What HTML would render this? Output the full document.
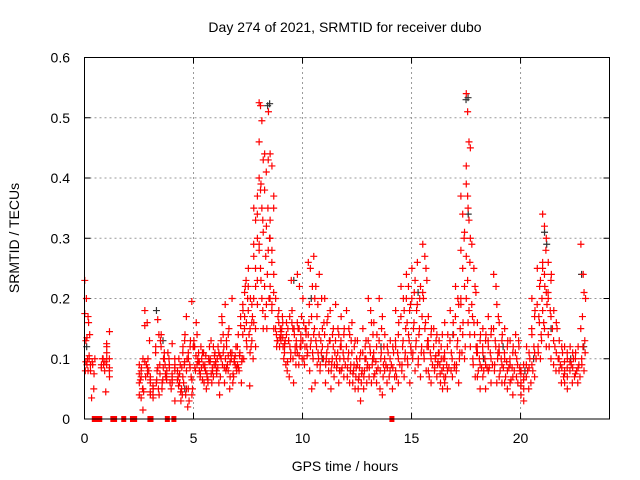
<!DOCTYPE html>
<html><head><meta charset="utf-8"><style>
body{margin:0;background:#fff}
svg{display:block;font-family:"Liberation Sans",sans-serif}
</style></head><body>
<svg id="chart" width="640" height="480">
<text x="345" y="32" text-anchor="middle" font-size="14">Day 274 of 2021, SRMTID for receiver dubo</text>
<text transform="translate(19,238) rotate(-90)" text-anchor="middle" font-size="14">SRMTID / TECUs</text>
<text x="345" y="471" text-anchor="middle" font-size="14">GPS time / hours</text>
<g id="grid"></g>
<g id="ticks"></g>
<g id="black"></g>
<g id="red"></g>
<rect x="84.5" y="57.5" width="525" height="361.5" fill="none" stroke="#000"/>
</svg>
<script>
const xTicks=[0,5,10,15,20];
const yTicks=[0,0.1,0.2,0.3,0.4,0.5,0.6];
const yTickLabels=["0","0.1","0.2","0.3","0.4","0.5","0.6"];
const binStart=[0,0.25,0.75,1.0,2.5,2.75,3.0,3.25,3.5,3.75,4.0,4.25,4.5,4.75,5.0,5.25,5.5,5.75,6.0,6.25,6.5,6.75,7.0,7.25,7.5,7.75,8.0,8.25,8.5,8.75,9.0,9.25,9.5,9.75,10,10.25,10.5,10.75,11,11.25,11.5,11.75,12,12.25,12.5,12.75,13,13.25,13.5,13.75,14,14.25,14.5,14.75,15,15.25,15.5,15.75,16,16.25,16.5,16.75,17,17.25,17.5,17.75,18,18.25,18.5,18.75,19,19.25,19.5,19.75,20,20.25,20.5,20.75,21,21.25,21.5,21.75,22,22.25,22.5,22.75];
const redValues=[
[0.23,0.2,0.17,0.14,0.13,0.1,0.1,0.08,0.09,0.16],[0.08,0.05,0.035,0.1,0.09],[0.09,0.08,0.1,0.045,0.09],[0.12,0.145,0.1,0.07,0.11,0.085],
[0.09,0.08,0.05,0.04,0.07,0.1,0.06,0.035,0.015],[0.18,0.16,0.13,0.09,0.08,0.07,0.1],[0.04,0.05,0.06,0.035,0.07,0.05],[0.12,0.165,0.09,0.06,0.05,0.13,0.08,0.04],
[0.14,0.1,0.07,0.065,0.09,0.05,0.11],[0.08,0.06,0.11,0.05,0.1],[0.125,0.09,0.07,0.03,0.06,0.08],[0.08,0.06,0.05,0.07,0.09,0.04,0.1,0.03],
[0.12,0.14,0.1,0.06,0.04,0.02,0.09,0.17],[0.1,0.13,0.05,0.03,0.07,0.12,0.09,0.195],[0.13,0.16,0.11,0.08,0.1,0.12,0.09],[0.08,0.1,0.06,0.12,0.09,0.07,0.11],
[0.09,0.07,0.12,0.05,0.1,0.08,0.06],[0.1,0.08,0.11,0.06,0.09,0.13,0.07],[0.09,0.12,0.07,0.1,0.04,0.08,0.11],[0.1,0.14,0.19,0.17,0.12,0.08,0.09,0.06],
[0.12,0.15,0.1,0.08,0.11,0.09,0.05],[0.2,0.1,0.08,0.07,0.12,0.06,0.09],[0.09,0.11,0.1,0.08,0.06,0.14,0.17],[0.18,0.22,0.2,0.15,0.12,0.1,0.23],
[0.25,0.2,0.17,0.14,0.12,0.1,0.055,0.16],[0.35,0.33,0.3,0.27,0.22,0.19,0.16,0.12,0.37],[0.525,0.52,0.495,0.43,0.4,0.38,0.35,0.31,0.28,0.25,0.2,0.15],[0.44,0.41,0.35,0.3,0.27,0.24,0.2,0.17,0.15,0.51],
[0.44,0.42,0.37,0.33,0.28,0.24,0.22,0.19,0.15],[0.2,0.17,0.15,0.13,0.12,0.14,0.16],[0.14,0.12,0.13,0.15,0.1,0.09,0.17,0.11],[0.16,0.13,0.1,0.08,0.07,0.23,0.15,0.12],
[0.18,0.14,0.12,0.06,0.09,0.15,0.11],[0.24,0.22,0.17,0.15,0.12,0.1,0.09,0.14],[0.2,0.15,0.11,0.09,0.12,0.16,0.14],[0.26,0.25,0.22,0.16,0.13,0.1,0.08,0.05],
[0.27,0.22,0.19,0.15,0.12,0.1,0.06,0.09],[0.24,0.2,0.16,0.13,0.1,0.08,0.12],[0.2,0.16,0.13,0.1,0.08,0.06,0.12],[0.18,0.14,0.11,0.09,0.07,0.05,0.12],
[0.19,0.15,0.12,0.09,0.08,0.1,0.06],[0.17,0.14,0.12,0.1,0.08,0.07],[0.18,0.15,0.13,0.1,0.08,0.07,0.06],[0.16,0.12,0.1,0.08,0.07,0.06,0.05],
[0.13,0.1,0.08,0.07,0.06,0.05,0.03],[0.15,0.12,0.09,0.08,0.06,0.05,0.1],[0.2,0.18,0.14,0.12,0.09,0.07,0.06],[0.16,0.12,0.1,0.08,0.07,0.06],
[0.2,0.15,0.12,0.1,0.07,0.05,0.04],[0.14,0.11,0.09,0.07,0.06],[0.13,0.11,0.09,0.07,0.05],[0.18,0.14,0.12,0.1,0.08,0.06],
[0.22,0.2,0.15,0.12,0.1,0.08,0.07],[0.24,0.22,0.19,0.16,0.13,0.11,0.09,0.06],[0.25,0.21,0.18,0.15,0.12,0.1,0.08],[0.26,0.2,0.17,0.14,0.11,0.09,0.07],
[0.29,0.27,0.23,0.2,0.16,0.13,0.1,0.08],[0.17,0.14,0.12,0.1,0.08,0.06],[0.15,0.13,0.11,0.1,0.09,0.08,0.07],[0.13,0.12,0.1,0.09,0.08,0.07,0.06,0.05],
[0.16,0.12,0.1,0.08,0.06,0.05],[0.18,0.14,0.11,0.09,0.07],[0.22,0.2,0.15,0.12,0.1,0.08,0.06],[0.37,0.34,0.31,0.28,0.25,0.22,0.19,0.14,0.1],
[0.54,0.51,0.46,0.45,0.39,0.37,0.33,0.3,0.27,0.23,0.18,0.12],[0.29,0.25,0.21,0.17,0.14,0.11,0.09,0.07],[0.16,0.13,0.11,0.09,0.07,0.05],[0.15,0.13,0.11,0.09,0.07,0.05],
[0.17,0.14,0.12,0.1,0.08,0.06],[0.24,0.22,0.17,0.13,0.1,0.08,0.06],[0.16,0.13,0.11,0.09,0.07,0.06],[0.15,0.12,0.1,0.08,0.06,0.05],
[0.13,0.11,0.09,0.07,0.06,0.04],[0.14,0.12,0.1,0.08,0.06],[0.08,0.07,0.06,0.05,0.04,0.03],[0.12,0.1,0.08,0.06,0.05],
[0.2,0.17,0.14,0.11,0.09,0.07],[0.25,0.22,0.2,0.17,0.14,0.12,0.1],[0.34,0.32,0.3,0.26,0.24,0.21,0.18,0.15,0.12],[0.26,0.23,0.2,0.17,0.14,0.1],
[0.18,0.15,0.12,0.1,0.08],[0.13,0.11,0.09,0.07,0.06],[0.12,0.1,0.08,0.07,0.06,0.05],[0.12,0.1,0.09,0.07,0.06],
[0.11,0.09,0.08,0.07,0.06],[0.29,0.24,0.2,0.17,0.13,0.1,0.08]];
const redExtra=[
[0.175,0.135,0.105,0.095,0.08],[0.09,0.075,0.095],[0.085,0.095,0.1],[0.09,0.1,0.125,0.08],
[0.075,0.085,0.045,0.065,0.05],[0.095,0.085,0.155,0.075],[0.045,0.055,0.065,0.04],[0.11,0.085,0.075,0.065,0.14],
[0.12,0.085,0.075,0.06,0.1],[0.07,0.09,0.065,0.085],[0.075,0.085,0.065,0.1],[0.065,0.075,0.085,0.055,0.045],
[0.11,0.095,0.08,0.07,0.13,0.05],[0.11,0.085,0.065,0.05,0.12,0.04],[0.12,0.105,0.095,0.085,0.14],[0.095,0.085,0.11,0.075,0.065],
[0.085,0.075,0.095,0.105,0.065],[0.095,0.085,0.105,0.075,0.12],[0.095,0.085,0.105,0.075,0.06],[0.13,0.11,0.1,0.16,0.085],
[0.13,0.105,0.095,0.085,0.14,0.07],[0.11,0.095,0.085,0.075,0.105],[0.12,0.105,0.095,0.085,0.155],[0.19,0.17,0.16,0.14,0.21,0.13],
[0.18,0.15,0.13,0.22,0.11,0.19],[0.29,0.25,0.23,0.2,0.15,0.34],[0.46,0.39,0.33,0.29,0.23,0.18],[0.38,0.32,0.28,0.22,0.19,0.43],
[0.3,0.26,0.21,0.2,0.18,0.35],[0.15,0.13,0.135,0.12,0.18],[0.13,0.135,0.125,0.145,0.16,0.12],[0.14,0.13,0.11,0.095,0.17],
[0.16,0.15,0.13,0.1,0.12],[0.16,0.15,0.13,0.11,0.105,0.12],[0.13,0.12,0.105,0.1,0.15],[0.14,0.12,0.11,0.19,0.17],
[0.14,0.13,0.11,0.2,0.17],[0.14,0.11,0.1,0.09,0.15],[0.14,0.11,0.095,0.09,0.17],[0.13,0.1,0.09,0.08,0.15],
[0.13,0.11,0.1,0.085,0.14],[0.13,0.11,0.09,0.085,0.15],[0.12,0.11,0.09,0.085,0.14],[0.11,0.09,0.085,0.075,0.13],
[0.09,0.085,0.075,0.065,0.11],[0.11,0.1,0.085,0.07,0.13],[0.13,0.11,0.1,0.085,0.16],[0.11,0.095,0.085,0.075,0.14],
[0.13,0.11,0.09,0.08,0.17],[0.1,0.085,0.08,0.12],[0.1,0.085,0.08,0.12],[0.13,0.11,0.09,0.07,0.16],
[0.17,0.13,0.11,0.09,0.18],[0.2,0.14,0.12,0.1,0.18],[0.2,0.16,0.13,0.11,0.23],[0.19,0.15,0.12,0.1,0.22],
[0.21,0.15,0.12,0.11,0.25],[0.13,0.11,0.09,0.07,0.15],[0.12,0.105,0.095,0.085,0.14],[0.11,0.1,0.085,0.075,0.14],
[0.11,0.09,0.085,0.07,0.14],[0.13,0.1,0.085,0.08,0.16],[0.17,0.13,0.11,0.09,0.19],[0.2,0.16,0.12,0.11,0.3],
[0.42,0.35,0.26,0.2,0.16,0.14],[0.19,0.16,0.12,0.1,0.22],[0.12,0.1,0.085,0.08,0.14],[0.12,0.1,0.085,0.08,0.14],
[0.13,0.11,0.09,0.085,0.15],[0.15,0.12,0.11,0.09,0.19],[0.12,0.1,0.085,0.08,0.14],[0.11,0.095,0.085,0.07,0.13],
[0.1,0.085,0.08,0.065,0.12],[0.11,0.09,0.085,0.07,0.13],[0.075,0.065,0.055,0.09],[0.09,0.085,0.07,0.11],
[0.15,0.12,0.1,0.08,0.18],[0.19,0.16,0.13,0.11,0.23],[0.25,0.22,0.19,0.16,0.28],[0.21,0.18,0.15,0.12,0.24],
[0.13,0.11,0.09,0.16],[0.1,0.085,0.08,0.12],[0.095,0.085,0.075,0.11],[0.095,0.085,0.08,0.11],
[0.1,0.085,0.075,0.12],[0.15,0.12,0.11,0.09,0.21]];
const zeroHours=[0.45,0.6,0.7,1.3,1.38,1.8,2.2,2.3,3.0,3.05,3.8,4.1,14.1];
const blackHours=[0.1,3.3,3.6,4.6,8.4,8.5,9.6,10.4,10.9,12.2,13.6,15.3,16.9,17.5,17.6,18.3,19.2,20.2,20.6,21.1,21.2,21.4,22.3,22.8,22.9];
const blackValues=[0.12,0.18,0.13,0.05,0.52,0.3,0.23,0.2,0.1,0.08,0.12,0.21,0.14,0.53,0.34,0.1,0.12,0.08,0.1,0.31,0.29,0.15,0.1,0.24,0.12];

const NS='http://www.w3.org/2000/svg';
const X0=84.5,X1=609.5,Y0=419,Y1=57.5,XMAX=24.08,YMAX=0.6;
const xs=h=>X0+h/XMAX*(X1-X0);
const ys=v=>Y0-v/YMAX*(Y0-Y1);
function mk(tag,attrs,parent){const e=document.createElementNS(NS,tag);for(const k in attrs)e.setAttribute(k,attrs[k]);parent.appendChild(e);return e;}
const grid=document.getElementById('grid'),ticks=document.getElementById('ticks');
xTicks.forEach(t=>{
  const x=xs(t);
  if(t>0){const g=mk('line',{x1:x,x2:x,y1:Y0,y2:Y1,stroke:'#999','stroke-dasharray':'2,3'},grid);
  
  }
  mk('line',{x1:x,x2:x,y1:Y0,y2:Y0-6,stroke:'#000'},ticks);
  mk('line',{x1:x,x2:x,y1:Y1,y2:Y1+6,stroke:'#000'},ticks);
  const l=mk('text',{x:x,y:443,'text-anchor':'middle','font-size':14},ticks);l.textContent=t;
  
  
});
yTicks.forEach((t,i)=>{
  const y=ys(t);
  if(t>0&&t<0.6){const g=mk('line',{x1:X0,x2:X1,y1:y,y2:y,stroke:'#999','stroke-dasharray':'2,3'},grid);
  
  }
  mk('line',{x1:X0,x2:X0+6,y1:y,y2:y,stroke:'#000'},ticks);
  mk('line',{x1:X1,x2:X1-6,y1:y,y2:y,stroke:'#000'},ticks);
  const l=mk('text',{x:70,y:y+5,'text-anchor':'end','font-size':14},ticks);l.textContent=yTickLabels[i];
  
  
});
function plus(g,x,y,c){
  const p=mk('path',{d:`M${x-3.5},${y}h7M${x},${y-3.5}v7`,stroke:c,'stroke-width':1.2,fill:'none'},g);
  
  
}
const red=document.getElementById('red'),black=document.getElementById('black');
blackHours.forEach((h,i)=>plus(black,xs(h),ys(blackValues[i]),'#333'));
binStart.forEach((s,b)=>{
  const vals=redValues[b],n=vals.length;
  vals.forEach((v,i)=>{const f=((i*3)%n+0.5)/n;plus(red,xs(s+f*0.25),ys(v),'#f00');});
  const ex=redExtra[b],m=ex.length;
  ex.forEach((v,i)=>{const f=((i*2)%m+0.25)/m;plus(red,xs(s+f*0.25),ys(v),'#f00');});
});
zeroHours.forEach(h=>{
  const r=mk('rect',{x:xs(h)-2.5,y:Y0-3,width:5,height:6,fill:'#f00'},red);
  
  
});
blackHours.forEach((h,i)=>{if(blackValues[i]>0.45)plus(black,xs(h)+2,ys(blackValues[i])-2,'#333');});
</script>
</body></html>
